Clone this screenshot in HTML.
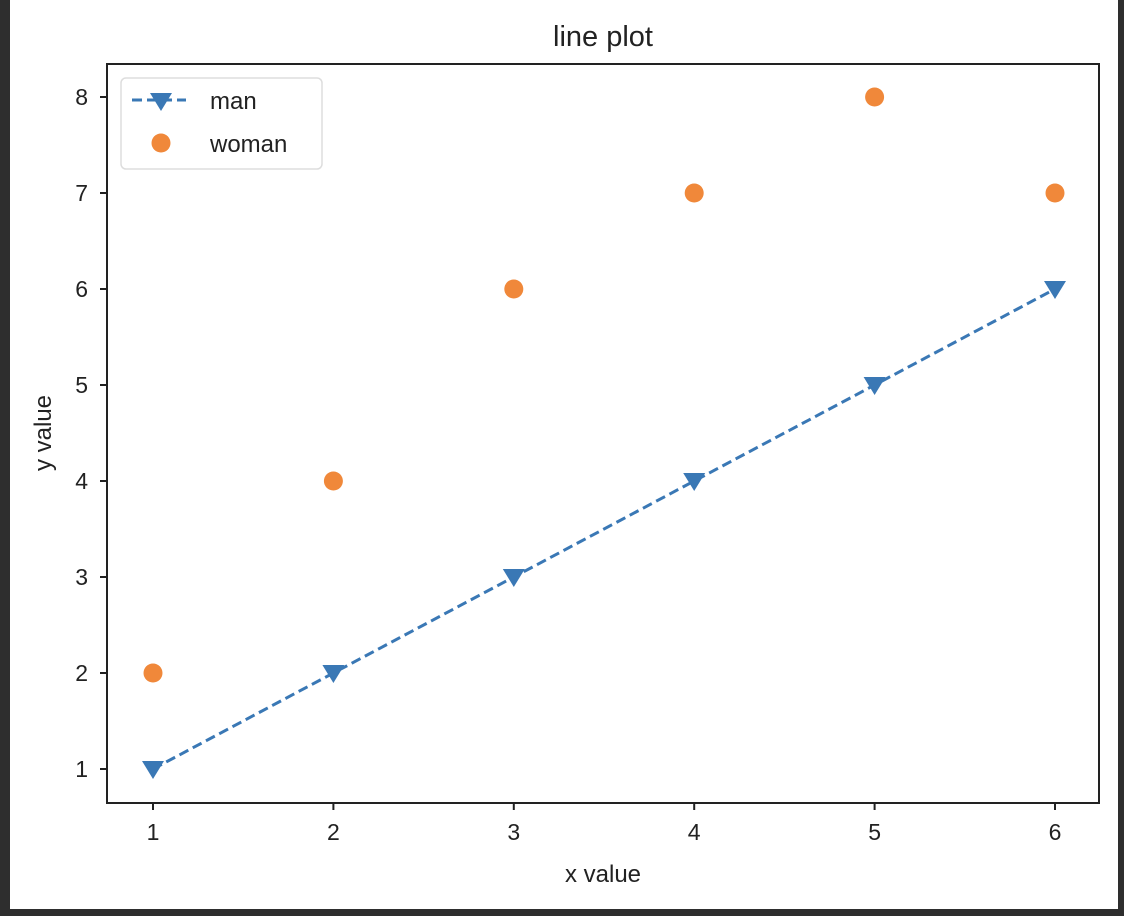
<!DOCTYPE html>
<html><head><meta charset="utf-8"><style>
body{margin:0;background:#2b2b2b;}
svg{display:block;font-family:"Liberation Sans","DejaVu Sans",sans-serif;}
</style></head><body>
<svg width="1124" height="916">
<rect x="0" y="0" width="1124" height="916" fill="#2e2e2e"/>
<rect x="10" y="0" width="1108" height="909" fill="#fff"/>
<text x="603" y="46" font-size="29" text-anchor="middle" fill="#222">line plot</text>
<g id="plot"></g>
<rect x="107" y="64" width="992" height="739" fill="none" stroke="#222" stroke-width="2"/>
<text x="603" y="882" font-size="24" text-anchor="middle" fill="#222">x value</text>
<text transform="translate(51,433) rotate(-90)" font-size="24" text-anchor="middle" fill="#222">y value</text>
<g>
<rect x="121" y="78" width="201" height="91" rx="5" fill="#fff" stroke="#ddd" stroke-width="1.5"/>
<line x1="132" y1="100" x2="186" y2="100" stroke="#3a78b5" stroke-width="3" stroke-dasharray="10,5"/>
<polygon points="150,93 172,93 161,111" fill="#3a78b5"/>
<text x="210" y="109" font-size="24" fill="#222">man</text>
<circle cx="161" cy="143" r="9.5" fill="#f0883a"/>
<text x="210" y="152" font-size="24" fill="#222">woman</text>
</g>
</svg>
<script>
const xValues=[1,2,3,4,5,6];
const manValues=[1,2,3,4,5,6];
const womanValues=[2,4,6,7,8,7];
const xTicks=[1,2,3,4,5,6];
const yTicks=[1,2,3,4,5,6,7,8];
const NS='http://www.w3.org/2000/svg';
const sx=v=>153+(v-1)*180.4;
const sy=v=>769-(v-1)*96;
const g=document.getElementById('plot');
function mk(t,a){const e=document.createElementNS(NS,t);for(const k in a)e.setAttribute(k,a[k]);g.appendChild(e);return e;}
xTicks.forEach(t=>{
 const l=mk('line',{x1:sx(t),x2:sx(t),y1:803,y2:810,stroke:'#222','stroke-width':2});
 
 
 const tx=mk('text',{x:sx(t),y:840,'font-size':23,'text-anchor':'middle',fill:'#222'});tx.textContent=t;
 
 
});
yTicks.forEach(t=>{
 const l=mk('line',{x1:100,x2:107,y1:sy(t),y2:sy(t),stroke:'#222','stroke-width':2});
 
 
 const tx=mk('text',{x:88,y:sy(t)+8,'font-size':23,'text-anchor':'end',fill:'#222'});tx.textContent=t;
 
 
});
const pl=mk('polyline',{points:xValues.map((x,i)=>sx(x)+','+sy(manValues[i])).join(' '),fill:'none',stroke:'#3a78b5','stroke-width':3,'stroke-dasharray':'10,5'});


xValues.forEach((x,i)=>{
 const X=sx(x),Y=sy(manValues[i]);
 const p=mk('polygon',{points:`${X-11},${Y-8} ${X+11},${Y-8} ${X},${Y+10}`,fill:'#3a78b5'});
 
 
});
xValues.forEach((x,i)=>{
 const c=mk('circle',{cx:sx(x),cy:sy(womanValues[i]),r:9.5,fill:'#f0883a'});
 
 
});
</script>
</body></html>
